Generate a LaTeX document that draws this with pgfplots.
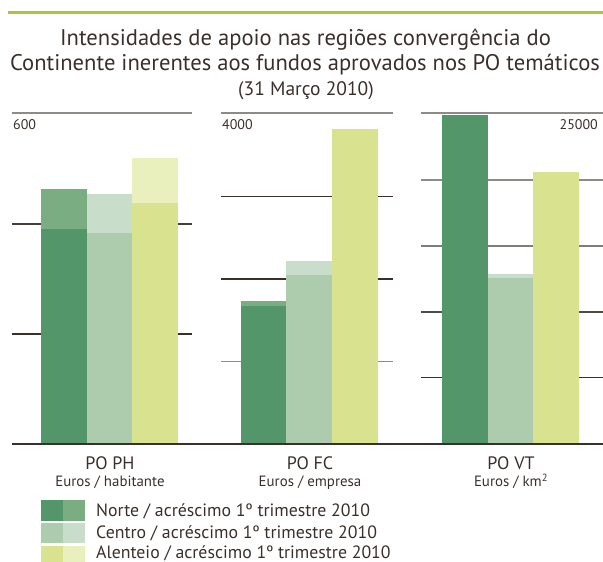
\documentclass[border=0pt]{standalone}
\usepackage{pgfplots}
\pgfplotsset{compat=1.18}
\usepackage{fontspec}
\setmainfont{PT Sans}
\definecolor{txt}{HTML}{3A302B}
\definecolor{rule}{HTML}{A9C73A}
\definecolor{gridg}{HTML}{8E8A86}
\definecolor{gridd}{HTML}{3A302B}
\definecolor{norteD}{HTML}{52966A}
\definecolor{norteL}{HTML}{7AAD82}
\definecolor{centroD}{HTML}{ADCCAE}
\definecolor{centroL}{HTML}{C8DECA}
\definecolor{alentD}{HTML}{D9E28F}
\definecolor{alentL}{HTML}{E9EFBD}
\pgfplotsset{
  panel/.style={anchor=south west, scale only axis, height=331pt, ymin=0,
    hide axis, clip=false},
  bar/.style={ybar, bar width=46, bar shift=0pt, draw=none, fill=#1},
}
\begin{document}
\begin{tikzpicture}
\useasboundingbox (0,0) rectangle (603pt,-562pt);
% top rule
\fill[rule] (8pt,-10.5pt) rectangle (603pt,-13.5pt);
% title
\node[txt, anchor=base, font=\fontsize{22.6}{26}\selectfont, inner sep=0] at (305.5pt,-45.5pt) {Intensidades de apoio nas regiões convergência do};
\node[txt, anchor=base, font=\fontsize{22.6}{26}\selectfont, inner sep=0] at (305pt,-70.5pt) {Continente inerentes aos fundos aprovados nos PO temáticos};
\node[txt, anchor=base, font=\fontsize{19.5}{22}\selectfont, inner sep=0] at (306pt,-95pt) {(31 Março 2010)};
% grid lines
\begin{scope}[line width=1.3pt]
\draw[gridg] (12pt,-113pt) -- (192pt,-113pt);
\draw[gridd!85!gridg] (12pt,-224pt) -- (192pt,-224pt);
\draw[gridd] (12pt,-334pt) -- (192pt,-334pt);
\draw[gridg] (221pt,-113pt) -- (393pt,-113pt);
\draw[gridd] (221pt,-196.7pt) -- (393pt,-196.7pt);
\draw[gridd] (221pt,-279pt) -- (393pt,-279pt);
\draw[gridg] (221pt,-361.7pt) -- (393pt,-361.7pt);
\draw[gridg] (421pt,-113pt) -- (603pt,-113pt);
\draw[gridg] (421pt,-180pt) -- (603pt,-180pt);
\draw[gridg!85!gridd] (421pt,-246pt) -- (603pt,-246pt);
\draw[gridd!70!gridg] (421pt,-312pt) -- (603pt,-312pt);
\draw[gridd] (421pt,-377.7pt) -- (603pt,-377.7pt);
\end{scope}
% PO PH
\begin{axis}[panel, at={(12pt,-444pt)}, width=180pt, xmin=0, xmax=180, ymax=600]
\addplot[bar=norteL] coordinates {(52,462)};
\addplot[bar=norteD] coordinates {(52,390)};
\addplot[bar=centroL] coordinates {(97.5,453)};
\addplot[bar=centroD] coordinates {(97.5,383)};
\addplot[bar=alentL] coordinates {(143,518)};
\addplot[bar=alentD] coordinates {(143,437)};
\end{axis}
% PO FC
\begin{axis}[panel, at={(221pt,-444pt)}, width=172pt, xmin=0, xmax=172, ymax=4000]
\addplot[bar=norteL] coordinates {(42.5,1728)};
\addplot[bar=norteD] coordinates {(42.5,1668)};
\addplot[bar=centroL] coordinates {(88,2211)};
\addplot[bar=centroD] coordinates {(88,2042)};
\addplot[bar=alentL] coordinates {(134,3807)};
\addplot[bar=alentD] coordinates {(134,3807)};
\end{axis}
% PO VT
\begin{axis}[panel, at={(421pt,-444pt)}, width=182pt, xmin=0, xmax=182, ymax=25000]
\addplot[bar=norteL] coordinates {(44,24850)};
\addplot[bar=norteD] coordinates {(44,24850)};
\addplot[bar=centroL] coordinates {(89.5,12860)};
\addplot[bar=centroD] coordinates {(89.5,12540)};
\addplot[bar=alentL] coordinates {(135,20540)};
\addplot[bar=alentD] coordinates {(135,20540)};
\end{axis}
% baseline
\draw[gridd, line width=1.5pt] (12pt,-444pt) -- (603pt,-444pt);
% scale labels
\begin{scope}[txt, font=\fontsize{14}{16}\selectfont]
\node[anchor=base west, inner sep=0] at (13pt,-129pt) {600};
\node[anchor=base west, inner sep=0] at (222pt,-129pt) {4000};
\node[anchor=base east, inner sep=0] at (598pt,-129pt) {25000};
\end{scope}
% category labels
\begin{scope}[txt]
\node[anchor=base, inner sep=0, font=\fontsize{18}{20}\selectfont] at (110pt,-469.5pt) {PO PH};
\node[anchor=base, inner sep=0, font=\fontsize{14.9}{16}\selectfont] at (110pt,-486.5pt) {Euros / habitante};
\node[anchor=base, inner sep=0, font=\fontsize{18}{20}\selectfont] at (310pt,-469.5pt) {PO FC};
\node[anchor=base, inner sep=0, font=\fontsize{14.9}{16}\selectfont] at (310pt,-486.5pt) {Euros / empresa};
\node[anchor=base, inner sep=0, font=\fontsize{18}{20}\selectfont] at (511pt,-469.5pt) {PO VT};
\node[anchor=base, inner sep=0, font=\fontsize{14.9}{16}\selectfont] at (511pt,-486.5pt) {Euros / km\textsuperscript{2}};
\end{scope}
% legend
\fill[norteD] (41pt,-500pt) rectangle (63pt,-521pt);
\fill[norteL] (63pt,-500pt) rectangle (85pt,-521pt);
\fill[centroD] (41pt,-523pt) rectangle (63pt,-543pt);
\fill[centroL] (63pt,-523pt) rectangle (85pt,-543pt);
\fill[alentD] (41pt,-546pt) rectangle (63pt,-566pt);
\fill[alentL] (63pt,-546pt) rectangle (85pt,-566pt);
\begin{scope}[txt, font=\fontsize{17.8}{20}\selectfont]
\node[anchor=base west, inner sep=0] at (96pt,-516.5pt) {Norte / acréscimo 1º trimestre 2010};
\node[anchor=base west, inner sep=0] at (96pt,-538.5pt) {Centro / acréscimo 1º trimestre 2010};
\node[anchor=base west, inner sep=0] at (96pt,-558pt) {Alenteio / acréscimo 1º trimestre 2010};
\end{scope}
\end{tikzpicture}
\end{document}
